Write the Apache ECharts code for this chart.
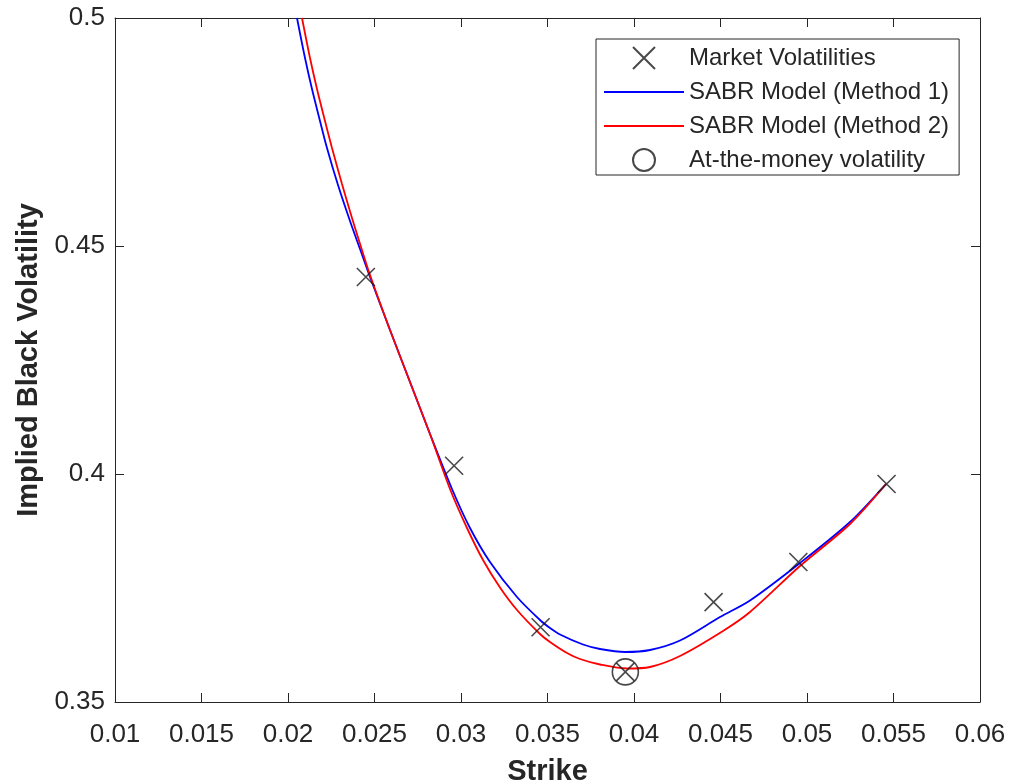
<!DOCTYPE html>
<html>
<head>
<meta charset="utf-8">
<script src="https://cdn.jsdelivr.net/npm/echarts@6/dist/echarts.min.js"></script>
<style>html,body{margin:0;padding:0;background:#fff}#c{width:1012px;height:784px}</style>
</head>
<body>
<div id="c"></div>
<script>
// Market data
const marketStrikes = [0.0245, 0.0296, 0.0346, 0.0395, 0.0446, 0.0495, 0.0546];
const marketVols    = [0.4432, 0.4018, 0.3664, 0.3566, 0.3719, 0.3807, 0.3978];
// At-the-money point
const atmStrike = [0.0395];
const atmVol    = [0.3566];
// SABR Method 1 (blue) curve
const m1Strikes = [0.020520,0.020983,0.021387,0.021850,0.022254,0.022890,0.023584,0.024162,0.024740,0.025896,0.027052,0.028208,0.029480,0.030520,0.031676,0.033237,0.034566,0.035145,0.035723,0.037052,0.038035,0.039480,0.040925,0.042659,0.044971,0.046705,0.049595,0.052486,0.054566];
const m1Vols    = [0.500000,0.491228,0.484430,0.477412,0.471491,0.463377,0.455482,0.449342,0.443202,0.431579,0.420175,0.408772,0.396711,0.388158,0.380702,0.373026,0.367982,0.366228,0.364803,0.362610,0.361623,0.360965,0.361404,0.363487,0.368640,0.372259,0.380482,0.389474,0.397807];
// SABR Method 2 (red) curve
const m2Strikes = [0.020809,0.021272,0.021676,0.022139,0.022543,0.023121,0.023699,0.024220,0.024740,0.025896,0.027052,0.028208,0.029364,0.030347,0.031272,0.032254,0.033237,0.034566,0.035145,0.036127,0.036879,0.038035,0.039595,0.040925,0.042659,0.045145,0.046705,0.049595,0.052486,0.054566];
const m2Vols    = [0.500000,0.491228,0.484430,0.477412,0.471491,0.463596,0.456140,0.449781,0.443640,0.431579,0.420175,0.408772,0.396711,0.388158,0.381140,0.375110,0.370175,0.364912,0.363158,0.360746,0.359430,0.358224,0.357346,0.357675,0.360088,0.365570,0.369737,0.379825,0.389035,0.397807];
// Axis settings
const xTicks = {min: 0.01, max: 0.06, interval: 0.005};
const yTicks = {min: 0.35, max: 0.5, interval: 0.05};
const seriesNames = ['Market Volatilities', 'SABR Model (Method 1)', 'SABR Model (Method 2)', 'At-the-money volatility'];

const zip = (a, b) => a.map((v, i) => [v, b[i]]);
const axisColor = '#262626';
const font = 'Liberation Sans, Arial, Helvetica, sans-serif';

const baseAxis = {
  axisLine: {show: true, onZero: false, lineStyle: {color: axisColor, width: 1}},
  axisTick: {show: true, inside: true, length: 9, lineStyle: {color: axisColor, width: 1}},
  splitLine: {show: false}
};

const chart = echarts.init(document.getElementById('c'));
chart.setOption({
  backgroundColor: '#fff',
  animation: false,
  grid: {left: 115, top: 18, right: 32, bottom: 82, containLabel: false, outerBoundsMode: 'none'},
  xAxis: [
    Object.assign({}, baseAxis, {
      type: 'value', position: 'bottom', min: xTicks.min, max: xTicks.max, interval: xTicks.interval,
      axisLabel: {color: axisColor, fontSize: 26, fontFamily: font, margin: 20},
      name: 'Strike', nameLocation: 'middle', nameGap: 55,
      nameTextStyle: {color: axisColor, fontSize: 29, fontWeight: 'bold', fontFamily: font}
    }),
    Object.assign({}, baseAxis, {
      type: 'value', position: 'top', min: xTicks.min, max: xTicks.max, interval: xTicks.interval,
      axisLabel: {show: false}
    })
  ],
  yAxis: [
    Object.assign({}, baseAxis, {
      type: 'value', position: 'left', min: yTicks.min, max: yTicks.max, interval: yTicks.interval,
      axisLabel: {color: axisColor, fontSize: 26, fontFamily: font, margin: 10},
      name: 'Implied Black Volatility', nameLocation: 'middle', nameGap: 72,
      nameTextStyle: {color: axisColor, fontSize: 29, fontWeight: 'bold', fontFamily: font}
    }),
    Object.assign({}, baseAxis, {
      type: 'value', position: 'right', min: yTicks.min, max: yTicks.max, interval: yTicks.interval,
      axisLabel: {show: false}
    })
  ],
  legend: {
    orient: 'vertical', left: 596, top: 39,
    itemWidth: 80, itemHeight: 22, itemGap: 10,
    padding: [7, 10, 3, 7],
    borderColor: axisColor, borderWidth: 1, backgroundColor: '#fff',
    textStyle: {color: axisColor, fontSize: 24, fontFamily: font},
    data: [
      {name: seriesNames[0]},
      {name: seriesNames[1], itemStyle: {opacity: 0}},
      {name: seriesNames[2], itemStyle: {opacity: 0}},
      {name: seriesNames[3]}
    ]
  },
  series: [
    {
      name: seriesNames[1], type: 'line', data: zip(m1Strikes, m1Vols), smooth: 0.3,
      symbol: 'none', lineStyle: {color: '#0000ff', width: 1.8}, itemStyle: {color: '#0000ff'}, z: 2
    },
    {
      name: seriesNames[2], type: 'line', data: zip(m2Strikes, m2Vols), smooth: 0.3,
      symbol: 'none', lineStyle: {color: '#ff0000', width: 1.8}, itemStyle: {color: '#ff0000'}, z: 3
    },
    {
      name: seriesNames[0], type: 'scatter', data: zip(marketStrikes, marketVols),
      symbol: 'path://M0,0L10,10M10,0L0,10', symbolSize: 18, symbolKeepAspect: true,
      itemStyle: {color: 'transparent', borderColor: '#1a1a1a', borderWidth: 1.6}, z: 4
    },
    {
      name: seriesNames[3], type: 'scatter', data: zip(atmStrike, atmVol),
      symbol: 'circle', symbolSize: 26, symbolKeepAspect: true,
      itemStyle: {color: 'transparent', borderColor: '#1a1a1a', borderWidth: 1.6}, z: 4
    }
  ]
});
</script>
</body>
</html>
